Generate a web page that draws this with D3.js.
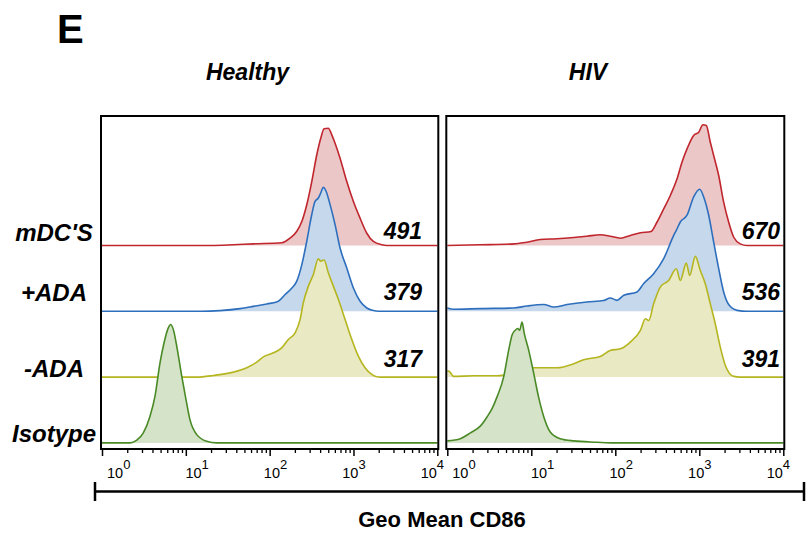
<!DOCTYPE html>
<html><head><meta charset="utf-8">
<script src="https://cdn.jsdelivr.net/npm/d3@7/dist/d3.min.js"></script>
<style>
body{margin:0;background:#fff;}
svg{display:block;font-family:"Liberation Sans",Arial,sans-serif;}
</style></head>
<body><svg id="chart" width="809" height="539"></svg>
<script>
// ---- data ----
const panelTitles = ["Healthy", "HIV"];
const categories = ["mDC'S", "+ADA", "-ADA", "Isotype"];
const xTickValues = [1, 10, 100, 1000, 10000];
const xTickExponents = ["0", "1", "2", "3", "4"];
const healthyGeoMeans = ["491", "379", "317", ""];
const hivGeoMeans = ["670", "536", "391", ""];
const axisTitle = "Geo Mean CD86";
const panelLetter = "E";

// [CD86 intensity, % of max]
const healthyMDC = [[1,0],[20,0],[36.6,0.6],[64,1.4],[139,2.3],[175,6.2],[210,11.9],[242,20.3],[277,34.5],[318,54.2],[365,76.9],[407,90.9],[446,98.9],[501,99.4],[551,93.8],[603,86.7],[692,74],[832,54.2],[998,37.3],[1200,23.1],[1442,10.4],[1726,3.4],[2178,0.6],[2500,0],[10000,0]];
const healthyPlusADA = [[1,0],[15,0],[25.6,0.6],[44.4,2.3],[64,4.2],[92.3,6.2],[127,8.5],[153,14.2],[184,19.7],[210,25.4],[242,39.6],[277,59.3],[318,82],[348,93.2],[381,96],[407,100.3],[437,105.1],[471,101.7],[526,90.4],[603,73.5],[692,53.6],[832,36.7],[998,19.7],[1200,8.5],[1442,2.8],[1726,0.6],[2000,0],[10000,0]];
const healthyMinusADA = [[1,0],[13.5,0],[21.3,1.4],[36.9,4.2],[53.3,7.9],[70.2,12.7],[84.1,17.2],[111,20.6],[139,24.8],[167,31.9],[201,37.5],[231,48.9],[252,63],[290,77.1],[332,87],[381,100.3],[407,98.3],[446,99.2],[501,88.4],[575,77.1],[661,65.8],[794,48.9],[955,31.9],[1143,17.8],[1374,7.9],[1652,2.3],[1897,0.3],[2100,0],[10000,0]];
const healthyIsotype = [[1,0],[2.16,0],[2.6,2.3],[3.11,8.5],[3.74,22.6],[4.29,39.6],[4.92,67.8],[5.49,84.7],[6.18,97.5],[6.6,100.3],[7.1,96],[7.92,79.1],[8.94,56.5],[10.05,36.7],[11.2,19.7],[13.5,7],[17.7,1.4],[23.4,0],[10000,0]];

const hivMDC = [[1,0],[2.47,0.6],[6.17,1.4],[8.89,2.8],[12.8,5.1],[20.2,5.7],[32,6.8],[46,7.9],[66.2,9.1],[87.1,7.9],[115,6.2],[151,8.5],[199,10.8],[266,11.9],[313,19.7],[377,31.1],[452,42.4],[543,56.5],[622,70.6],[714,81.9],[857,93.2],[984,96],[1107,102.3],[1211,101.7],[1352,87.5],[1483,76.3],[1702,59.3],[1950,36.7],[2239,19.7],[2570,7],[3076,1.4],[3698,0],[10000,0]];
const hivPlusADA = [[1,2.8],[1.19,1.7],[2.47,2.3],[6.17,2.8],[8.89,4.5],[14.1,5.7],[18.5,3.6],[26.6,5.7],[46,7.9],[72.8,9.1],[87.1,11.3],[105,9.3],[126,13.6],[181,16.4],[218,23.5],[286,31.9],[377,44.7],[496,64.4],[532,68.6],[594,75.7],[714,81.4],[857,96.9],[1011,103.4],[1128,96.9],[1294,81.4],[1483,58.7],[1702,36.2],[1950,16.4],[2239,5.7],[2812,0.8],[3698,0],[10000,0]];
const hivMinusADA = [[1,5.1],[1.04,5.1],[1.19,0.6],[2.06,1.1],[3.91,1.1],[6.17,3.4],[10.7,7.9],[20.2,7.9],[32,11.3],[42,14.7],[66.2,17.5],[87.1,22.6],[115,24],[151,29.7],[199,39.6],[228,49.4],[250,48],[286,62.1],[343,76.3],[432,81.9],[532,91.8],[594,81.9],[700,96.6],[769,86.2],[896,102.3],[1028,90.4],[1178,79.1],[1352,62.1],[1549,45.2],[1778,25.4],[2042,9.9],[2570,0.6],[3076,0],[10000,0]];
const hivIsotype = [[1,1.7],[1.43,3.6],[1.88,8.5],[2.47,14.2],[2.97,22],[3.41,29.1],[3.91,39],[4.69,55.9],[5.38,78.6],[5.89,91.3],[6.45,95.5],[6.89,96.9],[7.28,95.5],[7.75,102.5],[8.26,92.6],[9.31,78.6],[10.7,58.7],[12.2,39],[14.1,22],[16.8,9.3],[22.1,3.6],[32,1.7],[60.5,0.6],[95.7,0],[10000,0]];

// ---- styling / layout ----
const strokeColors = ["#c0262d", "#2e6fbd", "#b5b520", "#4a8a26"];
const fillColors = ["#ebc7c8", "#c6d8ec", "#e9e9c4", "#d5e3c8"];
const panels = [
  {title: panelTitles[0], series: [healthyMDC, healthyPlusADA, healthyMinusADA, healthyIsotype], means: healthyGeoMeans,
   x0: 102, x1: 437.3, titleX: 247.5, meanX: 422},
  {title: panelTitles[1], series: [hivMDC, hivPlusADA, hivMinusADA, hivIsotype], means: hivGeoMeans,
   x0: 447.3, x1: 783.3, titleX: 588, meanX: 780}
];
const frameTop = 116, frameBottom = 449;
const rowBase0 = 245.5, rowStep = 65.8, peakH = 118;
const labelDy = [-4.5, -10.5, 0, -1];
const meanDy = [-7, -11.5, -10.5, 0];

const svg = d3.select("#chart");

svg.append("text").attr("x", 57).attr("y", 43).attr("font-size", 40).attr("font-weight", "bold")
  .attr("fill", "#000").text(panelLetter);

// row labels
categories.forEach((c, i) => {
  svg.append("text").attr("x", 54).attr("y", rowBase0 + rowStep * i + labelDy[i])
    .attr("text-anchor", "middle").attr("font-size", 24).attr("font-weight", "bold")
    .attr("font-style", "italic").attr("fill", "#000").text(c);
});

panels.forEach(p => {
  const x = d3.scaleLog().domain([1, 10000]).range([p.x0, p.x1]);
  const g = svg.append("g");

  g.append("text").attr("x", p.titleX).attr("y", 79.5).attr("text-anchor", "middle")
    .attr("font-size", 23).attr("font-weight", "bold").attr("font-style", "italic").text(p.title);

  p.series.forEach((data, i) => {
    const base = rowBase0 + rowStep * i;
    const y = d3.scaleLinear().domain([0, 100]).range([base, base - peakH]);
    const area = d3.area().x(d => x(d[0])).y0(base).y1(d => y(d[1])).curve(d3.curveMonotoneX);
    const line = d3.line().x(d => x(d[0])).y(d => y(d[1])).curve(d3.curveMonotoneX);
    g.append("path").datum(data).attr("d", area).attr("fill", fillColors[i]);
    g.append("path").datum(data).attr("d", line).attr("fill", "none")
      .attr("stroke", strokeColors[i]).attr("stroke-width", 1.6).attr("stroke-linejoin", "round");
    if (p.means[i]) {
      g.append("text").attr("x", p.meanX).attr("y", base + meanDy[i]).attr("text-anchor", "end")
        .attr("font-size", 23).attr("font-weight", "bold").attr("font-style", "italic").text(p.means[i]);
    }
  });

  // frame
  g.append("rect").attr("x", p.x0 - 1).attr("y", frameTop).attr("width", p.x1 - p.x0 + 2)
    .attr("height", frameBottom - frameTop).attr("fill", "none").attr("stroke", "#000").attr("stroke-width", 2);

  // minor ticks
  const minor = [];
  for (let d = 1; d < 10000; d *= 10) for (let k = 2; k <= 9; k++) minor.push(d * k);
  const minorAxis = d3.axisBottom(x).tickValues(minor).tickSize(4).tickFormat("");
  const ma = g.append("g").attr("transform", `translate(0,${frameBottom})`).call(minorAxis);
  ma.select(".domain").remove();
  ma.selectAll("line").attr("stroke", "#000").attr("stroke-width", 1.3);
  const majorAxis = d3.axisBottom(x).tickValues(xTickValues).tickSize(7).tickFormat("");
  const mj = g.append("g").attr("transform", `translate(0,${frameBottom})`).call(majorAxis);
  mj.select(".domain").remove();
  mj.selectAll("line").attr("stroke", "#000").attr("stroke-width", 1.5);

  // tick labels 10^n
  xTickValues.forEach((v, i) => {
    const t = g.append("text").attr("x", x(v) + 5 - 5.4 * i).attr("y", 478)
      .attr("font-size", 14.5).attr("fill", "#000");
    t.append("tspan").text("10");
    t.append("tspan").attr("dy", -9.5).attr("font-size", 13).text(xTickExponents[i]);
  });
});

// bracket
const br = svg.append("g").attr("stroke", "#000").attr("stroke-width", 2.5).attr("fill", "none");
br.append("line").attr("x1", 95).attr("x2", 804).attr("y1", 491.5).attr("y2", 491.5);
br.append("line").attr("x1", 95).attr("x2", 95).attr("y1", 482).attr("y2", 501);
br.append("line").attr("x1", 804).attr("x2", 804).attr("y1", 482).attr("y2", 501);

svg.append("text").attr("x", 442).attr("y", 527).attr("text-anchor", "middle")
  .attr("font-size", 22).attr("font-weight", "bold").text(axisTitle);
</script></body></html>
